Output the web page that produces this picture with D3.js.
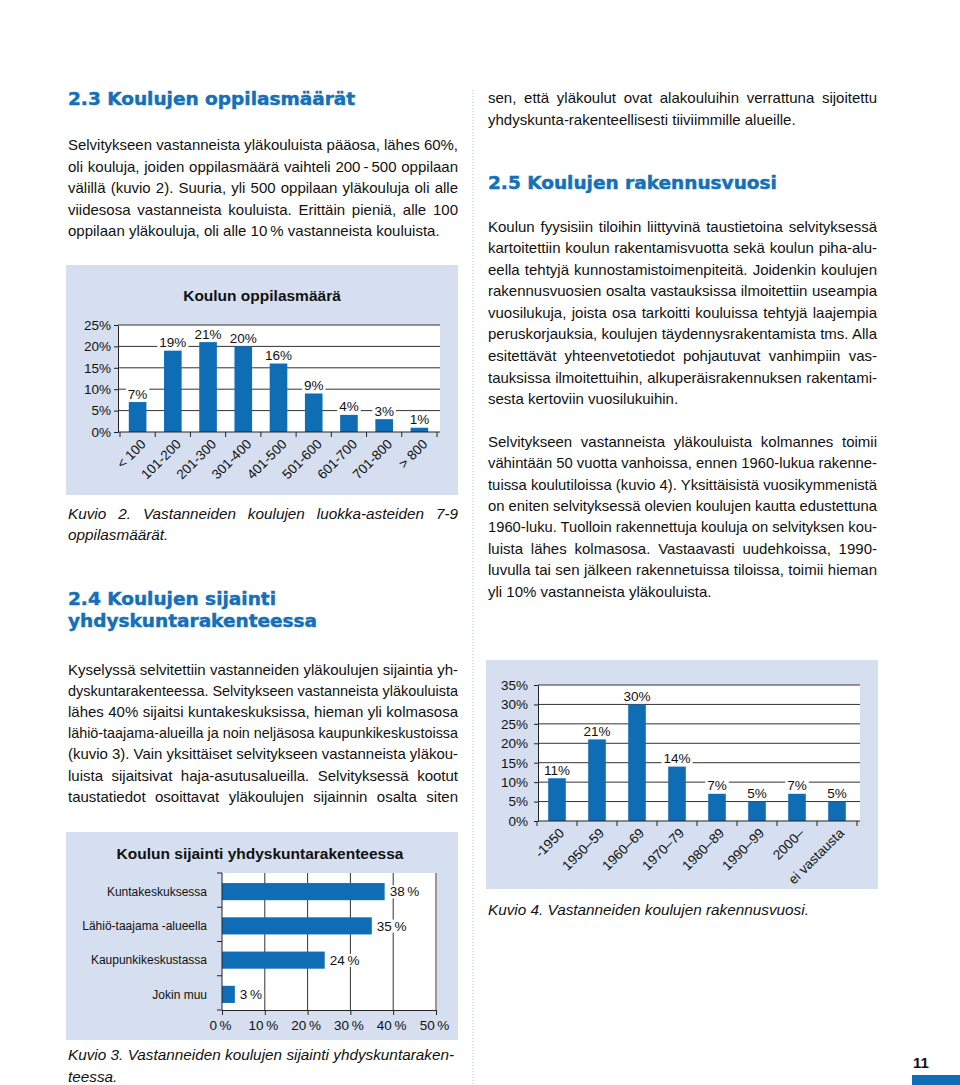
<!DOCTYPE html>
<html>
<head>
<meta charset="utf-8">
<script src="https://cdn.jsdelivr.net/npm/d3@7"></script>
<style>
body { margin: 0; background: #fff; }
text { font-family: "Liberation Sans", Arial, sans-serif; fill: #111; }
.txt { font-size: 15px; }
.cap { font-size: 15.3px; font-style: italic; }
.head { font-family: "DejaVu Sans", Verdana, sans-serif; font-weight: bold; font-size: 18.5px; fill: #1570b8; stroke: #1570b8; stroke-width: 0.5px; }
.ctitle { font-size: 15.5px; font-weight: bold; }
.lbl { font-size: 13.5px; }
</style>
</head>
<body>
<script>
// Kuvio 2: oppilasmäärä
const sizeCats = ["< 100", "101-200", "201-300", "301-400", "401-500", "501-600", "601-700", "701-800", "> 800"];
const sizeVals = [7, 19, 21, 20, 16, 9, 4, 3, 1];
const sizeTicks = [0, 5, 10, 15, 20, 25];

// Kuvio 3: sijainti
const locCats = ["Kuntakeskuksessa", "Lähiö-taajama -alueella", "Kaupunkikeskustassa", "Jokin muu"];
const locVals = [38, 35, 24, 3];
const locTicks = [0, 10, 20, 30, 40, 50];

// Kuvio 4: rakennusvuosi
const yearCats = ["-1950", "1950–59", "1960–69", "1970–79", "1980–89", "1990–99", "2000–", "ei vastausta"];
const yearVals = [11, 21, 30, 14, 7, 5, 7, 5];
const yearTicks = [0, 5, 10, 15, 20, 25, 30, 35];

// page text
const para23 = [
  "Selvitykseen vastanneista yläkouluista pääosa, lähes 60%,",
  "oli kouluja, joiden oppilasmäärä vaihteli 200\u2009-\u2009500 oppilaan",
  "välillä (kuvio 2). Suuria, yli 500 oppilaan yläkouluja oli alle",
  "viidesosa vastanneista kouluista. Erittäin pieniä, alle 100",
  "oppilaan yläkouluja, oli alle 10\u2009% vastanneista kouluista."
];
const cap2 = ["Kuvio 2. Vastanneiden koulujen luokka-asteiden 7-9", "oppilasmäärät."];
const para24 = [
  "Kyselyssä selvitettiin vastanneiden yläkoulujen sijaintia yh-",
  "dyskuntarakenteessa. Selvitykseen vastanneista yläkouluista",
  "lähes 40% sijaitsi kuntakeskuksissa, hieman yli kolmasosa",
  "lähiö-taajama-alueilla ja noin neljäsosa kaupunkikeskustoissa",
  "(kuvio 3). Vain yksittäiset selvitykseen vastanneista yläkou-",
  "luista sijaitsivat haja-asutusalueilla. Selvityksessä kootut",
  "taustatiedot osoittavat yläkoulujen sijainnin osalta siten"
];
const cap3 = ["Kuvio 3. Vastanneiden koulujen sijainti yhdyskuntaraken-", "teessa."];
const paraCont = [
  "sen, että yläkoulut ovat alakouluihin verrattuna sijoitettu",
  "yhdyskunta-rakenteellisesti tiiviimmille alueille."
];
const para25a = [
  "Koulun fyysisiin tiloihin liittyvinä taustietoina selvityksessä",
  "kartoitettiin koulun rakentamisvuotta sekä koulun piha-alu-",
  "eella tehtyjä kunnostamistoimenpiteitä. Joidenkin koulujen",
  "rakennusvuosien osalta vastauksissa ilmoitettiin useampia",
  "vuosilukuja, joista osa tarkoitti kouluissa tehtyjä laajempia",
  "peruskorjauksia, koulujen täydennysrakentamista tms. Alla",
  "esitettävät yhteenvetotiedot pohjautuvat vanhimpiin vas-",
  "tauksissa ilmoitettuihin, alkuperäisrakennuksen rakentami-",
  "sesta kertoviin vuosilukuihin."
];
const para25b = [
  "Selvitykseen vastanneista yläkouluista kolmannes toimii",
  "vähintään 50 vuotta vanhoissa, ennen 1960-lukua rakenne-",
  "tuissa koulutiloissa (kuvio 4). Yksittäisistä vuosikymmenistä",
  "on eniten selvityksessä olevien koulujen kautta edustettuna",
  "1960-luku. Tuolloin rakennettuja kouluja on selvityksen kou-",
  "luista lähes kolmasosa. Vastaavasti uudehkoissa, 1990-",
  "luvulla tai sen jälkeen rakennetuissa tiloissa, toimii hieman",
  "yli 10% vastanneista yläkouluista."
];
const cap4 = ["Kuvio 4. Vastanneiden koulujen rakennusvuosi."];

const barColor = "#0f6db6";
const panelColor = "#d5dff0";
const gridColor = "#333";

const svg = d3.select("body").append("svg")
  .attr("width", 960)
  .attr("height", 1085);

// column divider
svg.append("line")
  .attr("x1", 473).attr("x2", 473).attr("y1", 90).attr("y2", 1085)
  .attr("stroke", "#a9bccf").attr("stroke-dasharray", "1,2");

// justified lines: spread words with word-spacing, squeeze if too long
function para(lines, x, y, lh, width, cls, justifyLast) {
  lines.forEach((s, i) => {
    const t = svg.append("text").attr("class", cls).attr("x", x).attr("y", y + i * lh).text(s);
    const last = i === lines.length - 1;
    const w = t.node().getComputedTextLength();
    if (!last || justifyLast) {
      const n = (s.match(/ /g) || []).length;
      if (w > width || n === 0) {
        t.attr("textLength", width).attr("lengthAdjust", "spacingAndGlyphs");
      } else {
        t.attr("word-spacing", (width - w) / n);
      }
    } else if (w > width) {
      t.attr("textLength", width).attr("lengthAdjust", "spacingAndGlyphs");
    }
  });
}

function heading(lines, x, y, lh) {
  lines.forEach((s, i) => {
    svg.append("text").attr("class", "head").attr("x", x).attr("y", y + i * lh).text(s);
  });
}

// white box behind a label so it cuts the gridlines
function labelBg(g) {
  g.each(function () {
    const b = this.getBBox();
    d3.select(this.parentNode).insert("rect", () => this)
      .attr("x", b.x - 2).attr("y", b.y + 1)
      .attr("width", b.width + 4).attr("height", b.height - 2)
      .attr("fill", "#fff");
  });
}

function columnChart(cats, vals, ticks, box) {
  const g = svg.append("g");
  g.append("rect")
    .attr("x", box.panel[0]).attr("y", box.panel[1])
    .attr("width", box.panel[2]).attr("height", box.panel[3])
    .attr("fill", panelColor);

  if (box.title) {
    g.append("text").attr("class", "ctitle")
      .attr("x", box.panel[0] + box.panel[2] / 2).attr("y", box.titleY)
      .attr("text-anchor", "middle").text(box.title);
  }

  const x = d3.scaleBand().domain(cats).range([box.bx0, box.bx1])
    .paddingInner(box.pad).paddingOuter(box.pad / 2);
  const top = d3.max(ticks);
  const y = d3.scaleLinear().domain([0, top]).range([box.y0, box.y1]);

  g.append("rect")
    .attr("x", box.px0).attr("y", y(top))
    .attr("width", box.px1 - box.px0).attr("height", y(0) - y(top))
    .attr("fill", "#fff");

  g.selectAll(".grid").data(ticks.slice(1)).join("line")
    .attr("x1", box.px0).attr("x2", box.px1)
    .attr("y1", d => y(d)).attr("y2", d => y(d))
    .attr("stroke", gridColor);

  const ya = g.append("g")
    .attr("transform", `translate(${box.px0},0)`)
    .call(d3.axisLeft(y).tickValues(ticks).tickSize(4).tickSizeOuter(0)
      .tickPadding(box.tp).tickFormat(d => d + "%"));
  ya.attr("font-size", null).attr("font-family", null).attr("color", "#222");
  ya.selectAll("text").attr("class", "lbl").style("fill", "#111");

  g.selectAll(".bar").data(vals).join("rect")
    .attr("x", (d, i) => x(cats[i]))
    .attr("y", d => y(d))
    .attr("width", x.bandwidth())
    .attr("height", d => y(0) - y(d))
    .attr("fill", barColor);

  // x axis line and boundary ticks
  g.append("line")
    .attr("x1", box.px0).attr("x2", box.px1).attr("y1", y(0)).attr("y2", y(0))
    .attr("stroke", "#222");
  g.selectAll(".xt").data(d3.range(cats.length + 1)).join("line")
    .attr("x1", i => box.bx0 + i * x.step()).attr("x2", i => box.bx0 + i * x.step())
    .attr("y1", y(0)).attr("y2", y(0) + 5)
    .attr("stroke", "#222");

  g.selectAll(".xl").data(cats).join("text")
    .attr("class", "lbl")
    .attr("text-anchor", "end")
    .attr("transform", d => `translate(${x(d) + x.bandwidth() / 2 + box.lx},${y(0) + box.ly}) rotate(-45)`)
    .text(d => d);

  const vl = g.selectAll(".vl").data(vals).join("text")
    .attr("class", "lbl")
    .attr("text-anchor", "middle")
    .attr("x", (d, i) => x(cats[i]) + x.bandwidth() / 2)
    .attr("y", d => y(d) - 3.5)
    .text(d => d + "%");
  labelBg(vl);
}

function barChart(cats, vals, ticks, box) {
  const g = svg.append("g");
  g.append("rect")
    .attr("x", box.panel[0]).attr("y", box.panel[1])
    .attr("width", box.panel[2]).attr("height", box.panel[3])
    .attr("fill", panelColor);
  g.append("text").attr("class", "ctitle")
    .attr("x", box.panel[0] + box.panel[2] / 2 - 2).attr("y", box.titleY)
    .attr("text-anchor", "middle").text(box.title);

  const top = d3.max(ticks);
  const x = d3.scaleLinear().domain([0, top]).range([box.x0, box.x1]);
  const y = d3.scaleBand().domain(cats).range([box.y0, box.y1])
    .paddingInner(0.5).paddingOuter(0.25);

  g.append("rect")
    .attr("x", x(0)).attr("y", box.y0)
    .attr("width", x(top) - x(0) + 1).attr("height", box.y1 - box.y0)
    .attr("fill", "#fff");

  g.selectAll(".grid").data(ticks.slice(1)).join("line")
    .attr("x1", d => x(d)).attr("x2", d => x(d))
    .attr("y1", box.y0).attr("y2", box.y1)
    .attr("stroke", gridColor);

  g.selectAll(".bar").data(vals).join("rect")
    .attr("x", x(0))
    .attr("y", (d, i) => y(cats[i]) + 1.5)
    .attr("width", d => x(d) - x(0))
    .attr("height", y.bandwidth())
    .attr("fill", barColor);

  // y axis with ticks at band boundaries
  g.append("line")
    .attr("x1", x(0)).attr("x2", x(0)).attr("y1", box.y0).attr("y2", box.y1)
    .attr("stroke", "#222");
  g.selectAll(".yt").data(d3.range(cats.length + 1)).join("line")
    .attr("x1", x(0) - 5).attr("x2", x(0))
    .attr("y1", i => box.y0 + i * y.step()).attr("y2", i => box.y0 + i * y.step())
    .attr("stroke", "#222");

  const xa = g.append("g")
    .attr("transform", `translate(0,${box.y1})`)
    .call(d3.axisBottom(x).tickValues(ticks).tickSize(5).tickSizeOuter(0)
      .tickPadding(5).tickFormat(d => d + "\u2009%"));
  xa.attr("font-size", null).attr("font-family", null).attr("color", "#222");
  xa.selectAll("text").attr("class", "lbl").style("fill", "#111").attr("dx", -2);

  g.selectAll(".cl").data(cats).join("text")
    .attr("class", "lbl")
    .style("font-size", "12px")
    .attr("text-anchor", "end")
    .attr("x", x(0) - 15)
    .attr("y", d => y(d) + y.bandwidth() / 2 + 1.5)
    .attr("dy", "0.35em")
    .text(d => d);

  const vl = g.selectAll(".vl").data(vals).join("text")
    .attr("class", "lbl")
    .attr("x", d => x(d) + 5)
    .attr("y", (d, i) => y(cats[i]) + y.bandwidth() / 2 + 1.5)
    .attr("dy", "0.35em")
    .text(d => d + "\u2009%");
  labelBg(vl);
}

// left column
heading(["2.3 Koulujen oppilasmäärät"], 68, 105, 22);
para(para23, 68, 150, 21.5, 390, "txt", false);

columnChart(sizeCats, sizeVals, sizeTicks, {
  panel: [66, 265, 392, 230], title: "Koulun oppilasmäärä", titleY: 300.5,
  px0: 118, px1: 440, bx0: 120, bx1: 437, y0: 432, y1: 325,
  pad: 0.5, tp: 3, lx: 9, ly: 13
});

para(cap2, 68, 519, 21, 390, "cap", false);
heading(["2.4 Koulujen sijainti", "yhdyskuntarakenteessa"], 68, 605, 22);
para(para24, 68, 675, 21.1, 390, "txt", true);

barChart(locCats, locVals, locTicks, {
  panel: [66, 832, 392, 208], title: "Koulun sijainti yhdyskuntarakenteessa", titleY: 858.5,
  x0: 222, x1: 436, y0: 873, y1: 1010
});

para(cap3, 68, 1060, 22, 386, "cap", false);

// right column
para(paraCont, 488, 103, 21.7, 389, "txt", false);
heading(["2.5 Koulujen rakennusvuosi"], 488, 188.5, 22);
para(para25a, 488, 231.7, 21.55, 389, "txt", false);
para(para25b, 488, 446.7, 21.43, 389, "txt", false);

columnChart(yearCats, yearVals, yearTicks, {
  panel: [486, 660, 392, 229],
  px0: 538, px1: 860, bx0: 537, bx1: 857, y0: 821, y1: 685,
  pad: 0.56, tp: 6, lx: 8, ly: 13
});

para(cap4, 488, 915, 22, 389, "cap", false);

// page number
svg.append("text")
  .attr("x", 921).attr("y", 1068).attr("text-anchor", "middle")
  .style("font-size", "15px").style("font-weight", "bold")
  .text("11");
svg.append("rect")
  .attr("x", 912).attr("y", 1075).attr("width", 48).attr("height", 10)
  .attr("fill", barColor);
</script>
</body>
</html>
